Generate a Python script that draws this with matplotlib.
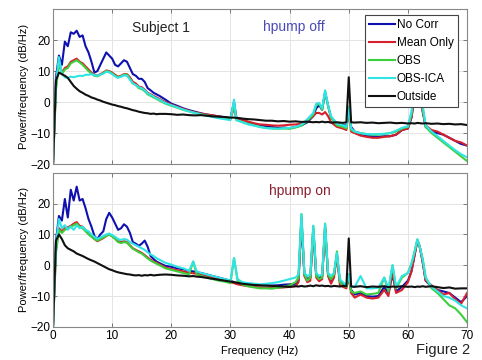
import numpy as np
import matplotlib
matplotlib.use("Agg")
import matplotlib.pyplot as plt

plt.rcParams['font.family'] = ['Liberation Sans', 'DejaVu Sans']

# ---- data: top panel (hpump off) ----
top_freq = [0, 0.5, 1, 1.5, 2, 2.5, 3, 3.5, 4, 4.5, 5, 5.5, 6, 6.5, 7, 7.5, 8, 8.5, 9, 9.5,
            10, 10.5, 11, 11.5, 12, 12.5, 13, 13.5, 14, 14.5, 15, 15.5, 16, 16.5, 17, 17.5, 18,
            19, 20, 21, 22, 23, 24, 25, 26, 27, 28, 29, 30,
            30.6, 31, 32, 33, 34, 35, 36, 37, 38, 39, 40, 41, 42, 43, 44,
            44.5, 45, 45.5, 46, 46.5, 47, 48, 49,
            49.6, 50, 50.4,
            51, 52, 53, 54, 55, 56, 57, 58, 59, 60,
            60.6, 61.2, 61.6, 62, 62.5,
            63, 64, 65, 66, 67, 68, 69, 70]

top_nocorr = [-20, 8, 15, 12, 19.5, 18, 22.5, 22, 23, 21, 21.5, 18, 16, 13, 9.5, 10, 12, 14, 16, 15,
              14, 12, 11.5, 12.5, 13.5, 13, 11, 9, 8.5, 7.5, 7.5, 6.5, 4.5, 3.8, 3, 2.5, 2,
              0.8, -0.5, -1.2, -2, -2.6, -3.1, -3.6, -4, -4.3, -4.6, -4.9, -5.2,
              0, -5, -5.5, -6.5, -7, -7.5, -7.8, -8, -8.3, -8.2, -8.4, -8, -7.5, -6.5, -4.5,
              -2, -1, -2.5, 3, -1, -5, -7, -7.5,
              -7.5, -2, -8,
              -9.5, -10.5, -11, -11, -11.2, -11, -11, -10.5, -9, -8.5,
              -5, 3, 2, 5, -3,
              -8, -9.5, -10, -10.5, -11.5, -12.5, -13.5, -14]

top_mean = [-20, 5, 13, 9.5, 11, 11.5, 13, 13.5, 14, 13, 12.5, 11.5, 10.5, 9.5, 8.8, 8.5, 9, 9.5, 10.2, 10,
            9.5, 8.8, 8.2, 8.5, 9, 9, 8, 6.5, 6, 5, 4.8, 4, 3, 2.5, 2, 1.5, 1,
            0, -0.8, -1.5, -2.2, -2.8, -3.3, -3.7, -4, -4.3, -4.6, -4.9, -5.2,
            -2, -5.2, -5.8, -6.3, -6.8, -7.2, -7.3, -7.5, -7.6, -7.5, -7.3, -7.2, -7, -6, -4.5,
            -3.5, -3.5, -4, -3.2, -4.5, -6.5, -8, -8.5,
            -9, -3, -9.5,
            -10, -10.8, -11.2, -11.5, -11.5, -11.2, -11, -10.5, -9, -8.5,
            -5, 3, 2, 5, -3,
            -7.5, -9, -9.5, -10.5, -11.5, -12.5, -13, -14]

top_obs = [-20, 4, 12.5, 9, 10.5, 11, 12.5, 13, 13.5, 12.8, 12, 11, 10, 9.2, 8.5, 8.3, 8.8, 9.3, 10, 9.8,
           9.2, 8.5, 8, 8.3, 8.8, 8.8, 7.5, 6, 5.5, 4.5, 4.2, 3.5, 2.5, 2, 1.5, 1, 0.5,
           -0.5, -1.2, -1.8, -2.5, -3, -3.5, -3.9, -4.3, -4.6, -5, -5.3, -5.6,
           -1, -5.8, -6.4, -7, -7.5, -8, -8.3, -8.5, -8.6, -8.5, -8.6, -8.2, -7.6, -6, -4,
           -1, -0.5, -2.5, 3.5, -1.5, -5, -7.5, -8,
           -8.5, -1.5, -9,
           -9.5, -10, -10.3, -10.5, -10.5, -10.3, -10, -9.5, -8.5, -8,
           -4, 5, 3, 6, -2,
           -8, -10, -11.5, -13, -14.5, -16, -17.5, -19]

top_obsica = [-20, 6, 14.5, 9, 8, 7.8, 8.2, 8, 8.3, 8.5, 8.4, 8.8, 8.8, 9, 8.7, 8.5, 8.8, 9.2, 9.8, 9.6,
              9, 8.3, 7.8, 8.2, 8.6, 8.5, 7.2, 6, 5.5, 4.8, 4.5, 3.8, 2.8, 2.3, 1.8, 1.2, 0.8,
              -0.3, -1, -1.7, -2.4, -3, -3.5, -4, -4.4, -4.8, -5.2, -5.5, -5.8,
              0.8, -5.8, -6.5, -7.2, -7.6, -8, -8.4, -8.5, -8.6, -8.4, -8.3, -8, -7.3, -5.5, -3.5,
              -0.5, -0.3, -2, 3.8, -1, -4.5, -7, -7.5,
              -8, -1.8, -8.5,
              -9.5, -10, -10.3, -10.4, -10.3, -10.2, -10, -9.2, -8.3, -7.8,
              -3, 6, 4, 7, -1,
              -7.5, -9.5, -11, -12.5, -14, -15.5, -16.8, -17.8]

top_outside = [-20, 7, 9.5, 9, 8.5, 7.8, 6.5, 5.2, 4.3, 3.5, 3, 2.4, 2, 1.5, 1.2, 0.8, 0.5, 0.1, -0.2, -0.5,
               -0.8, -1, -1.3, -1.5, -1.8, -2, -2.3, -2.6, -2.8, -3.1, -3.3, -3.5, -3.6, -3.8, -3.7, -3.9, -3.8,
               -3.8, -3.9, -4.1, -4, -4.2, -4.3, -4.2, -4.4, -4.6, -4.7, -4.8, -5,
               -5, -5.1, -5.3, -5.5, -5.6, -5.8, -6, -6, -6.2, -6.1, -6.3, -6.2, -6.4, -6.3, -6.5,
               -6.4, -6.5, -6.3, -6.5, -6.4, -6.6, -6.5, -6.7,
               -6.5, 8, -6.5,
               -6.6, -6.5, -6.7, -6.6, -6.8, -6.7, -6.6, -6.8, -6.7, -6.9,
               -6.8, -6.9, -6.7, -6.8, -6.9,
               -6.8, -7, -6.9, -7.1, -7, -7.2, -7.1, -7.4]

# ---- data: bottom panel (hpump on) ----
bot_freq = [0, 0.5, 1, 1.5, 2, 2.5, 3, 3.5, 4, 4.5, 5, 5.5, 6, 6.5, 7, 7.5, 8, 8.5, 9, 9.5,
            10, 10.5, 11, 11.5, 12, 12.5, 13, 13.5, 14, 14.5, 15, 15.5, 16, 16.5, 17, 17.5, 18,
            19, 20, 21, 22, 23, 23.7, 24.3, 25, 26, 27, 28, 29, 30,
            30.6, 31.2, 32, 33, 34, 35, 36, 37, 38, 39, 40, 41,
            41.5, 42, 42.5, 43, 43.5, 44, 44.5, 45, 45.5, 46, 46.5, 47, 47.5, 48, 48.5, 49,
            49.6, 50, 50.4,
            51, 52, 53, 54, 55, 56, 56.7, 57.4, 58, 59, 60,
            60.6, 61.2, 61.6, 62, 62.5,
            63, 64, 65, 66, 67, 68, 69, 70]

bot_nocorr = [-20, 8, 16, 14.5, 21.5, 15.5, 24.5, 21, 25.5, 21, 21.5, 18.5, 15, 12.5, 9.5, 8.5, 10, 11, 15, 17,
              15.5, 13.5, 11.5, 12, 13.3, 12.5, 10.5, 7.5, 7, 6.3, 7, 8, 6, 3, 2, 1.2, 0.7,
              -0.2, -0.5, -1, -1.3, -1.8, -2, -2.3, -2.5, -3, -3.5, -4, -4.5, -5,
              -5.5, -5.8, -6, -6.2, -6.3, -6.5, -6.5, -6.6, -6.5, -6.3, -6.2, -6,
              -5, 14, -3, -4.5, -4, 11, -3, -4.3, -3.5, 12, -3, -5.5, -3, 3, -5, -6,
              -6.5, -3, -8,
              -9.5, -9, -10, -10.2, -10, -7, -9, -3, -8.5, -7, -5,
              -2, 4, 8, 6, 1,
              -5, -7, -8, -8.5, -9, -10.5, -12, -10]

bot_mean = [-20, 5, 12, 11, 12, 12.3, 12.8, 13.5, 14, 12.8, 12.5, 11.5, 10.5, 9.5, 8.5, 7.8, 8.3, 8.8, 9.5, 10,
            9.5, 8.8, 7.8, 7.5, 7.8, 7.5, 6.5, 5.5, 5, 4.5, 4, 3.3, 2.5, 1.8, 1.2, 0.8, 0.3,
            -0.7, -1.2, -1.6, -2, -2.4, -2.6, -2.8, -3.1, -3.6, -4, -4.4, -5, -5.5,
            -5.8, -6.2, -6.5, -6.8, -7, -7.2, -7.3, -7.4, -7.3, -7.2, -7, -6.8,
            -5.5, 15.5, -3.5, -5.5, -5, 12, -4, -5.2, -4.5, 12.5, -3.5, -6, -4, 3.5, -6.5, -7,
            -7.5, -4, -9,
            -10.5, -9.5, -10.5, -10.8, -10.5, -8, -10, -2, -9, -8, -5.5,
            -2, 4, 8, 6, 1,
            -5, -6.5, -8, -9.5, -9, -11, -12.5, -9]

bot_obs = [-20, 4, 11.5, 10.5, 11.5, 12, 12.5, 13, 13.5, 12.5, 12, 11, 10, 9.2, 8.5, 8, 8.5, 9, 9.5, 10,
           9.3, 8.5, 7.5, 7.2, 7.5, 7.3, 6.3, 5.3, 4.8, 4.2, 3.8, 3, 2.2, 1.5, 1, 0.5, 0,
           -1, -1.5, -2, -2.5, -3, 1.2, -3, -3.5, -4, -4.5, -5, -5.3, -5.8,
           2.3, -5, -6.3, -6.8, -7.2, -7.5, -7.5, -7.6, -7.3, -7, -6.5, -5.5,
           -4, 16.6, -3, -5, -4, 12.8, -3.5, -4.5, -4, 13.5, -3, -4.5, -3, 4.5, -5.5, -6.5,
           -7, -3, -8.5,
           -9, -8.5, -9.5, -9.3, -9, -4, -8.5, 0, -7.5, -4, -2.5,
           0.5, 5, 8.4, 6, 2,
           -4, -7.5, -9, -11, -13, -14, -16, -18.5]

bot_obsica = [-20, 7, 15, 12, 13, 11.5, 12.5, 11.5, 13, 12, 12.5, 11.5, 11, 10, 9.2, 8.6, 9, 9.5, 10, 10.3,
              9.8, 9.2, 8.5, 8.2, 8.5, 8.3, 7.5, 7, 6.5, 6, 5.5, 5, 4.2, 3.5, 3, 2.3, 1.8,
              0.8, 0.2, -0.5, -1, -1.8, 1.2, -2, -2.5, -3, -3.5, -4, -4.5, -5,
              2.3, -4.5, -5.5, -5.8, -6, -6.2, -6, -5.8, -5.5, -5, -4.5, -4,
              -3, 16.6, -2.5, -3.5, -3, 12.8, -2.5, -3.5, -3, 13.5, -2.5, -3.5, -2.5, 4, -4.5, -5.5,
              -6.5, -3, -7,
              -7, -3.5, -7.5, -7.5, -7.3, -4, -7.5, 0, -7, -3.5, -2.5,
              0.5, 5, 8.4, 6, 2,
              -4, -7, -8.5, -10, -10.5, -11.5, -13, -14]

bot_outside = [-20, 8, 10, 8.5, 6.5, 5.5, 5, 4.5, 3.8, 3.4, 3, 2.5, 2, 1.6, 1.2, 0.7, 0.2, -0.3, -0.8, -1.3,
               -1.6, -2, -2.3, -2.5, -2.7, -2.9, -3, -3.2, -3.3, -3.2, -3.4, -3.2, -3.3, -3.1, -3.3, -3.2, -3.1,
               -3, -3.1, -3.3, -3.4, -3.6, -3.5, -3.7, -3.8, -4.1, -4.4, -4.7, -5, -5.3,
               -5.5, -5.7, -6, -6.2, -6.4, -6.5, -6.6, -6.7, -6.8, -6.9, -7, -6.8,
               -6.9, -6.7, -6.9, -6.8, -6.6, -6.8, -6.5, -6.7, -6.6, -6.8, -6.7, -6.9, -6.7, -6.8, -6.9, -6.7,
               -6.8, 8.7, -6.9,
               -7, -6.8, -7.1, -6.9, -7, -6.8, -7.1, -6.9, -7, -6.8, -7,
               -6.9, -7.1, -6.9, -7, -6.8,
               -7, -6.8, -7.1, -7.4, -7.2, -7.6, -7.5, -7.5]

labels = ['No Corr', 'Mean Only', 'OBS', 'OBS-ICA', 'Outside']
colors = ['#1010b0', '#d8202c', '#3ccf3c', '#30e4e4', '#101010']
xticks = [0, 10, 20, 30, 40, 50, 60, 70]
yticks = [-20, -10, 0, 10, 20]

fig = plt.figure(figsize=(4.82, 3.6), dpi=100)
ax1 = fig.add_axes([0.110, 0.544, 0.859, 0.431])
ax2 = fig.add_axes([0.110, 0.092, 0.859, 0.428])

panels = [
    (ax1, top_freq, [top_nocorr, top_mean, top_obs, top_obsica, top_outside]),
    (ax2, bot_freq, [bot_nocorr, bot_mean, bot_obs, bot_obsica, bot_outside]),
]

for ax, freq, series in panels:
    for vals, lab, col in zip(series, labels, colors):
        ax.plot(freq, vals, color=col, lw=1.5, label=lab)
    ax.set_xlim(0, 70)
    ax.set_ylim(-20, 30)
    ax.set_xticks(xticks)
    ax.set_yticks(yticks)
    ax.grid(True, color='#e4e4e4', lw=0.7)
    ax.set_axisbelow(True)
    ax.tick_params(direction='in', length=3, width=0.6, color='#666666',
                   labelsize=8.5, top=True, right=True, pad=2)
    for sp in ax.spines.values():
        sp.set_color('#888888')
        sp.set_linewidth(0.8)
    ax.set_ylabel('Power/frequency (dB/Hz)', fontsize=8, labelpad=1)

ax1.set_xticklabels([])
ax2.set_xlabel('Frequency (Hz)', fontsize=8, labelpad=3)

ax1.text(0.26, 0.88, 'Subject 1', transform=ax1.transAxes, fontsize=10,
         ha='center', va='center', color='#222222')
ax1.text(0.582, 0.885, 'hpump off', transform=ax1.transAxes, fontsize=10,
         ha='center', va='center', color='#4a4ab8')
ax2.text(0.597, 0.885, 'hpump on', transform=ax2.transAxes, fontsize=10,
         ha='center', va='center', color='#8a2030')

leg = ax1.legend(loc='upper right', bbox_to_anchor=(0.978, 0.962), fontsize=8.5,
                 frameon=True, fancybox=False, framealpha=1, edgecolor='#444444',
                 handlelength=2.2, handletextpad=0.15, labelspacing=0.5,
                 borderpad=0.35, borderaxespad=0)
leg.get_frame().set_linewidth(0.8)
leg.set_zorder(5)

fig.text(0.975, 0.008, 'Figure 2', fontsize=10.5, ha='right', va='bottom', color='#222222')

fig.savefig('out.png', dpi=100)
